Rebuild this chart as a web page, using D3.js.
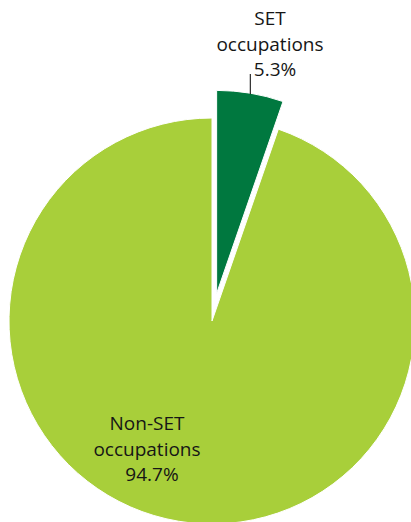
<!DOCTYPE html>
<html><head><meta charset="utf-8">
<script src="https://cdn.jsdelivr.net/npm/d3@7/dist/d3.min.js"></script>
<style>html,body{margin:0;padding:0;background:#fff;overflow:hidden}</style>
</head><body>
<svg id="c" width="411" height="522"></svg>
<script>
const categories = ["SET occupations", "Non-SET occupations"];
const values = [5.3, 94.7];
const labelLines = [["SET", "occupations", "5.3%"], ["Non-SET", "occupations", "94.7%"]];
const colors = ["#00783f", "#a8cf3a"];

const svg = d3.select("#c");
const cx = 212, cy = 321, R = 203, explode = 28;
const g = svg.append("g").attr("transform", `translate(${cx},${cy})`);

const pie = d3.pie().sort(null).value(d => d)(values);
const arc = d3.arc().innerRadius(0).outerRadius(R);

pie.forEach((p, i) => {
  const mid = (p.startAngle + p.endAngle) / 2;
  const off = i === 0 ? explode : 0;
  const dx = Math.sin(mid) * off, dy = -Math.cos(mid) * off;
  g.append("path")
    .attr("d", arc(p))
    .attr("transform", `translate(${dx},${dy})`)
    .attr("fill", colors[i])
    .attr("stroke", "#fff")
    .attr("stroke-width", 1);
});

// SET label leader
const p0 = pie[0];
const a0 = (p0.startAngle + p0.endAngle) / 2;
const ox = Math.sin(a0) * explode, oy = -Math.cos(a0) * explode;
const lx = ox + Math.sin(a0) * R, ly = oy - Math.cos(a0) * R;
g.append("line").attr("x1", lx).attr("x2", lx).attr("y1", ly + 1).attr("y2", 74 - cy)
  .attr("stroke", "#000").attr("stroke-width", 1);

const font = "'Open Sans', 'Noto Sans', sans-serif";
function block(x, y, lines, pctShift) {
  const t = svg.append("text").attr("font-family", font).attr("font-size", 19)
    .attr("fill", "#161616").attr("text-anchor", "middle");
  lines.forEach((s, i) => {
    t.append("tspan").attr("x", x + (i === 2 ? pctShift : 0)).attr("y", y + i * 25.5).text(s);
  });
}
block(270, 25, labelLines[0], 5);
block(147, 430, labelLines[1], 5);
</script>
</body></html>
